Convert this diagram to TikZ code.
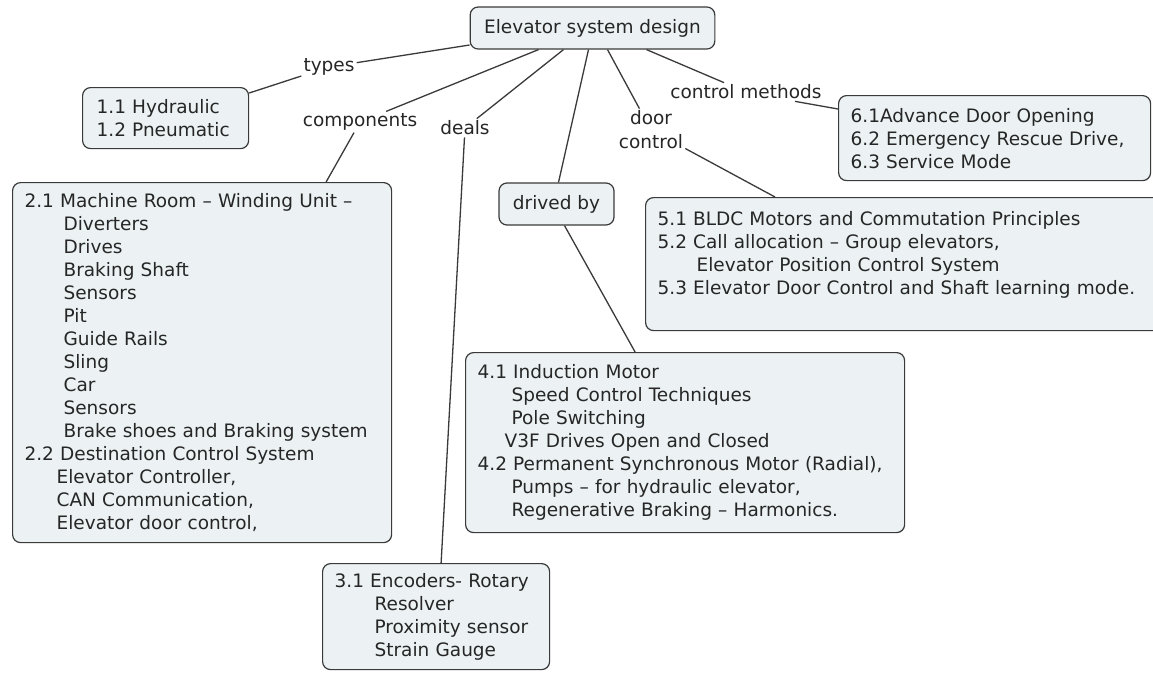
\documentclass[tikz,border=0pt]{standalone}
\usepackage{fontspec}
\setmainfont{DejaVu Sans}
\usetikzlibrary{positioning,calc}
\definecolor{cfill}{HTML}{ECF2F4}
\definecolor{edge}{HTML}{3A3A3A}
\definecolor{ink}{HTML}{262626}
\tikzset{concept/.style={draw=edge,fill=cfill,rounded corners=8pt,align=left,text=ink,font=\fontsize{18.5}{23}\selectfont,inner xsep=12pt,inner ysep=4pt,line width=1.2pt},
         ctext/.style={concept,anchor=north west},
         linkword/.style={align=center,text=ink,font=\fontsize{18.5}{24}\selectfont,inner sep=2pt},
         conn/.style={edge,line width=1.3pt}}

\begin{document}
\begin{tikzpicture}[x=1pt,y=-1pt]
 \useasboundingbox[fill=white] (0,0) rectangle (1153,673);
 % concepts
 \node[concept,align=center,inner xsep=14pt,minimum height=42pt] (root) at (592.5,28) {Elevator system design};
 \node[ctext,text width=138pt,minimum height=61pt,inner xsep=14pt] (hyd) at (82,87) {1.1 Hydraulic\\1.2 Pneumatic};
 \node[ctext,text width=355pt,minimum height=360pt] (comp) at (12,182) {2.1 Machine Room -- Winding Unit --\\
   \hspace*{39pt}Diverters\\ \hspace*{39pt}Drives\\ \hspace*{39pt}Braking Shaft\\ \hspace*{39pt}Sensors\\
   \hspace*{39pt}Pit\\ \hspace*{39pt}Guide Rails\\ \hspace*{39pt}Sling\\ \hspace*{39pt}Car\\ \hspace*{39pt}Sensors\\
   \hspace*{39pt}Brake shoes and Braking system\\
   2.2 Destination Control System\\
   \hspace*{32pt}Elevator Controller,\\ \hspace*{32pt}CAN Communication,\\ \hspace*{32pt}Elevator door control,};
 \node[concept,align=center,inner xsep=13pt,minimum width=115pt,minimum height=42pt] (drv) at (556.5,204) {drived by};
 \node[ctext,text width=288pt,minimum height=85pt] (ctl) at (838,95) {6.1Advance Door Opening\\6.2 Emergency Rescue Drive,\\6.3 Service Mode};
 \node[ctext,text width=495pt,minimum height=133pt] (door) at (645,197) {5.1 BLDC Motors and Commutation Principles\\
   5.2 Call allocation -- Group elevators,\\ \hspace*{39pt}Elevator Position Control System\\
   5.3 Elevator Door Control and Shaft learning mode.\\ \mbox{}};
 \node[ctext,text width=415pt,minimum height=180pt] (mot) at (465,352) {4.1 Induction Motor\\
   \hspace*{34pt}Speed Control Techniques\\ \hspace*{34pt}Pole Switching\\ \hspace*{27pt}V3F Drives Open and Closed\\
   4.2 Permanent Synchronous Motor (Radial),\\
   \hspace*{34pt}Pumps -- for hydraulic elevator,\\ \hspace*{34pt}Regenerative Braking -- Harmonics.};
 \node[ctext,text width=203pt,minimum height=106pt] (enc) at (322,563) {3.1 Encoders- Rotary\\
   \hspace*{40pt}Resolver\\ \hspace*{40pt}Proximity sensor\\ \hspace*{40pt}Strain Gauge};
 % linking phrases
 \node[linkword] (types) at (329,67) {types};
 \node[linkword] (cpts) at (360,122) {components};
 \node[linkword] (deals) at (465,128) {deals};
 \node[linkword] (dctl) at (651,130) {door\\control};
 \node[linkword] (cmeth) at (746,92) {control methods};
 % connectors
 \draw[conn] ([yshift=-17pt]root.west) -- (types); \draw[conn] (types) -- ([yshift=-6pt]hyd.north east);
 \draw[conn] ([xshift=-54pt]root.south) -- (cpts); \draw[conn] (cpts) -- ([xshift=124pt]comp.north);
 \draw[conn] ([xshift=-29pt]root.south) -- (deals); \draw[conn] (deals) -- ([xshift=5pt]enc.north);
 \draw[conn] ([xshift=-4pt]root.south) -- ([xshift=2pt]drv.north); \draw[conn] ([xshift=8pt]drv.south) -- ([xshift=-50pt]mot.north);
 \draw[conn] ([xshift=15pt]root.south) -- (dctl); \draw[conn] (dctl) -- ([xshift=130pt]door.north west);
 \draw[conn] ([xshift=54pt]root.south) -- (cmeth); \draw[conn] ([xshift=49pt]cmeth.south) -- ([yshift=-14pt]ctl.north west);
\end{tikzpicture}
\end{document}
